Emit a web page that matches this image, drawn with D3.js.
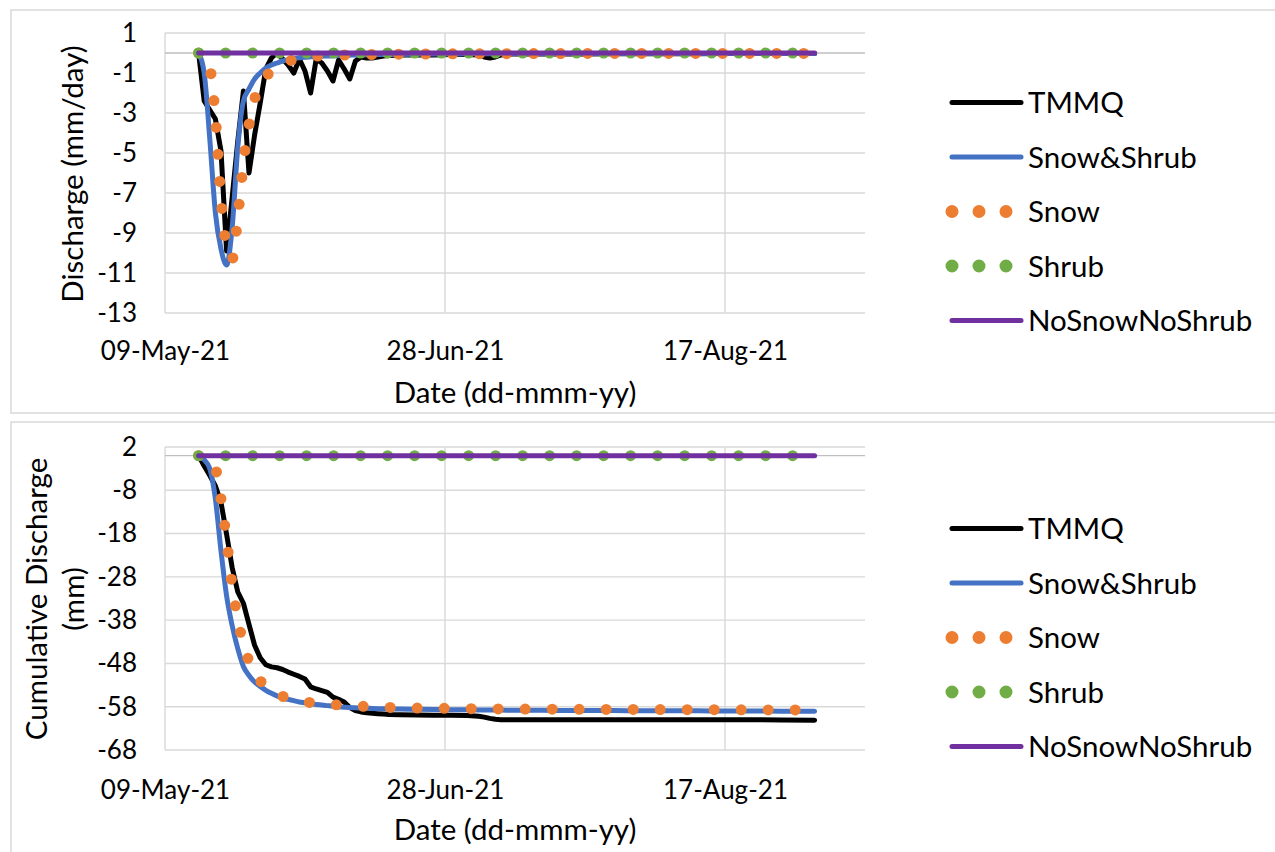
<!DOCTYPE html>
<html><head><meta charset="utf-8">
<script src="https://cdnjs.cloudflare.com/ajax/libs/d3/7.8.5/d3.min.js"></script>
<style>
body{margin:0;background:#fff}
svg text{font-family:Lato,"Open Sans",sans-serif;fill:#000}
</style>
</head><body>
<svg id="c" width="1275" height="852"></svg>
<script>
// ---------- DATA ----------
const startDate = new Date(2021, 4, 9);          // 09-May-21 (axis origin)
const endDate = new Date(2021, 8, 11);           // axis max
// day offsets from 09-May-21 for every data row
const dayOffsets = [6,7,8,9,10,11,12,13,14,15,16,17,18,19,20,21,22,23,24,25,26,27,28,29,30,31,32,33,34,35,36,37,38,39,40,
  42,45,48,51,54,56,57,58,59,60,62,65,70,75,80,85,90,95,100,105,110,116];
const seriesNames = ["TMMQ","Snow&Shrub","Snow","Shrub","NoSnowNoShrub"];
const xTickDates = ["2021-05-09","2021-06-28","2021-08-17"];
const yTicksDaily = [1,-1,-3,-5,-7,-9,-11,-13];
const yTicksCum = [2,-8,-18,-28,-38,-48,-58,-68];

// Daily discharge (mm/day)
const dailyTMMQ = [0,-2.4,-2.85,-3.3,-4.9,-9.9,-7.2,-4.4,-1.9,-6.0,-4.1,-2.5,-0.8,-0.25,0,-0.3,-0.6,-1.0,-0.3,-0.9,-2.0,-0.3,-0.5,-0.9,-1.4,-0.35,-0.8,-1.3,-0.4,-0.2,-0.25,-0.25,-0.2,-0.15,-0.12,
  -0.1,-0.1,-0.1,-0.08,-0.08,-0.1,-0.2,-0.25,-0.2,-0.1,-0.05,-0.05,-0.05,-0.05,-0.04,-0.04,-0.04,-0.04,-0.03,-0.03,-0.03,-0.03];
const dailySnowShrub = [0,-1.0,-4.3,-8.0,-9.8,-10.6,-8.7,-4.7,-2.4,-1.8,-1.3,-1.0,-0.75,-0.6,-0.5,-0.4,-0.33,-0.28,-0.24,-0.21,-0.19,-0.17,-0.16,-0.15,-0.14,-0.13,-0.12,-0.11,-0.1,-0.1,-0.09,-0.09,-0.08,-0.08,-0.08,
  -0.07,-0.06,-0.05,-0.05,-0.04,-0.04,-0.04,-0.04,-0.04,-0.04,-0.03,-0.03,-0.03,-0.02,-0.02,-0.02,-0.02,-0.02,-0.02,-0.02,-0.02,-0.02];
const dailySnow = [0,-0.05,-0.7,-3.2,-7.3,-9.7,-10.3,-8.2,-5.5,-3.6,-2.3,-1.7,-1.2,-0.9,-0.7,-0.55,-0.42,-0.33,-0.26,-0.21,-0.18,-0.16,-0.14,-0.13,-0.12,-0.11,-0.1,-0.1,-0.09,-0.09,-0.08,-0.08,-0.07,-0.07,-0.07,
  -0.06,-0.05,-0.05,-0.04,-0.04,-0.04,-0.04,-0.04,-0.04,-0.04,-0.03,-0.03,-0.03,-0.02,-0.02,-0.02,-0.02,-0.02,-0.02,-0.02,-0.02,-0.02];
const dailyShrub = [0,0,0,0,0,0,0,0,0,0,0,0,0,0,0,0,0,0,0,0,0,0,0,0,0,0,0,0,0,0,0,0,0,0,0,
  0,0,0,0,0,0,0,0,0,0,0,0,0,0,0,0,0,0,0,0,0,0];
const dailyNone = [0,0,0,0,0,0,0,0,0,0,0,0,0,0,0,0,0,0,0,0,0,0,0,0,0,0,0,0,0,0,0,0,0,0,0,
  0,0,0,0,0,0,0,0,0,0,0,0,0,0,0,0,0,0,0,0,0,0];

// Cumulative discharge (mm)
const cumTMMQ = [0,-2.4,-4.6,-7.0,-10.8,-18.2,-25.9,-31.5,-34.1,-39.0,-43.8,-46.7,-48.3,-48.8,-49.0,-49.4,-50.0,-50.5,-51.0,-51.6,-53.4,-53.9,-54.3,-54.7,-55.8,-56.3,-56.9,-58.2,-58.9,-59.2,-59.4,-59.5,-59.6,-59.7,-59.8,
  -59.85,-59.9,-59.95,-60.0,-60.05,-60.2,-60.4,-60.7,-60.9,-61.0,-61.0,-61.0,-61.0,-61.0,-61.0,-61.0,-61.0,-61.0,-61.0,-61.0,-61.05,-61.1];
const cumSnowShrub = [0,-1.0,-3.0,-10.0,-22.0,-32.4,-39.3,-44.6,-48.7,-50.8,-52.3,-53.3,-54.2,-54.9,-55.5,-56.0,-56.3,-56.6,-56.9,-57.1,-57.3,-57.5,-57.6,-57.75,-57.9,-58.0,-58.1,-58.2,-58.25,-58.3,-58.35,-58.4,-58.45,-58.48,-58.5,
  -58.55,-58.6,-58.65,-58.7,-58.72,-58.74,-58.75,-58.76,-58.77,-58.78,-58.8,-58.82,-58.85,-58.87,-58.9,-58.92,-58.94,-58.96,-58.98,-59.0,-59.02,-59.05];
const cumSnow = [0,-0.1,-0.8,-2.8,-10.0,-19.5,-30.0,-37.7,-43.6,-47.5,-50.2,-52.0,-53.3,-54.3,-55.1,-55.6,-56.0,-56.4,-56.7,-56.9,-57.05,-57.2,-57.3,-57.4,-57.5,-57.6,-57.7,-57.8,-57.85,-57.9,-57.95,-58.0,-58.05,-58.1,-58.15,
  -58.2,-58.3,-58.35,-58.4,-58.45,-58.47,-58.48,-58.49,-58.5,-58.5,-58.52,-58.55,-58.58,-58.6,-58.62,-58.64,-58.66,-58.68,-58.7,-58.72,-58.74,-58.76];
const cumShrub = [0,0,0,0,0,0,0,0,0,0,0,0,0,0,0,0,0,0,0,0,0,0,0,0,0,0,0,0,0,0,0,0,0,0,0,
  0,0,0,0,0,0,0,0,0,0,0,0,0,0,0,0,0,0,0,0,0,0];
const cumNone = [0,0,0,0,0,0,0,0,0,0,0,0,0,0,0,0,0,0,0,0,0,0,0,0,0,0,0,0,0,0,0,0,0,0,0,
  0,0,0,0,0,0,0,0,0,0,0,0,0,0,0,0,0,0,0,0,0,0];

// ---------- STYLE ----------
const styles = {
  "TMMQ":          {color:"#000000", width:5, dots:false, curve:d3.curveLinear},
  "Snow&Shrub":    {color:"#4472C4", width:5, dots:false, curve:d3.curveMonotoneX},
  "Snow":          {color:"#ED7D31", width:11, dots:true, curve:d3.curveMonotoneX},
  "Shrub":         {color:"#70AD47", width:11, dots:true, curve:d3.curveLinear},
  "NoSnowNoShrub": {color:"#7030A0", width:5, dots:false, curve:d3.curveLinear}
};
const TICK_FONT = 26;
const LABEL_FONT = 29.5;
const svg = d3.select("#c");
const dates = dayOffsets.map(o => d3.timeDay.offset(startDate, o));
const parse = d3.timeParse("%Y-%m-%d");
const fmt = d3.timeFormat("%d-%b-%y");

function drawChart(cfg) {
  const g = svg.append("g");
  // outer frame
  g.append("rect").attr("x", 11).attr("y", cfg.frameTop).attr("width", 1300).attr("height", cfg.frameH)
    .attr("fill", "none").attr("stroke", "#d9d9d9").attr("stroke-width", 1.5);

  const x = d3.scaleTime().domain([startDate, endDate]).range([165, 865]);
  const y = d3.scaleLinear().domain(cfg.yDomain).range(cfg.yRange);

  // horizontal gridlines
  g.append("g").selectAll("line").data(cfg.yTicks).join("line")
    .attr("x1", 165).attr("x2", 865).attr("y1", d => y(d)).attr("y2", d => y(d))
    .attr("stroke", "#d9d9d9").attr("stroke-width", 1.4);
  // vertical gridlines
  g.append("g").selectAll("line").data(xTickDates).join("line")
    .attr("x1", d => x(parse(d))).attr("x2", d => x(parse(d)))
    .attr("y1", cfg.yRange[1]).attr("y2", cfg.yRange[0])
    .attr("stroke", "#d9d9d9").attr("stroke-width", 1.4);
  // zero axis line
  g.append("line").attr("x1", 165).attr("x2", 865).attr("y1", y(0)).attr("y2", y(0))
    .attr("stroke", "#bfbfbf").attr("stroke-width", 1.4);

  // y axis labels (plain hyphen-minus like the original)
  const ya = g.append("g").attr("transform", "translate(165,0)")
    .call(d3.axisLeft(y).tickValues(cfg.yTicks).tickFormat(d => String(d)).tickSize(0).tickPadding(28));
  ya.select(".domain").remove();
  ya.selectAll("text").style("font-size", TICK_FONT + "px").style("font-family", "Lato");

  // x axis labels
  const xa = g.append("g").attr("transform", `translate(0,${cfg.yRange[0]})`)
    .call(d3.axisBottom(x).tickValues(xTickDates.map(parse)).tickFormat(fmt).tickSize(0).tickPadding(cfg.xPad));
  xa.select(".domain").remove();
  xa.selectAll("text").style("font-size", TICK_FONT + "px").style("font-family", "Lato");

  // axis titles
  g.append("text").attr("x", 515).attr("y", cfg.xTitleY).attr("text-anchor", "middle")
    .style("font-size", LABEL_FONT + "px").text("Date (dd-mmm-yy)");
  cfg.yTitle.forEach(t => {
    g.append("text").attr("transform", `translate(${t.x},${cfg.yTitleCY}) rotate(-90)`)
      .attr("text-anchor", "middle").style("font-size", LABEL_FONT + "px").text(t.text);
  });

  // series
  cfg.series.forEach((vals, si) => {
    const st = styles[seriesNames[si]];
    const line = d3.line().x((d, i) => x(dates[i])).y(d => y(d)).curve(st.curve);
    const p = g.append("path").attr("d", line(vals)).attr("fill", "none")
      .attr("stroke", st.color).attr("stroke-width", st.width)
      .attr("stroke-linejoin", "round").attr("stroke-linecap", "round");
    if (st.dots) p.attr("stroke-dasharray", "0 27");
  });

  // legend
  seriesNames.forEach((name, i) => {
    const st = styles[name];
    const ly = cfg.legendY + i * 54.5;
    const l = g.append("line").attr("x1", 952).attr("x2", 1021).attr("y1", ly).attr("y2", ly)
      .attr("stroke", st.color).attr("stroke-linecap", "round");
    if (st.dots) l.attr("stroke-width", 13).attr("stroke-dasharray", "0 27").attr("x2", 1010);
    else l.attr("stroke-width", 5);
    g.append("text").attr("x", 1028).attr("y", ly + 10.5).style("font-size", LABEL_FONT + "px").text(name);
  });
}

drawChart({
  frameTop: 10, frameH: 403,
  yDomain: [-13, 1], yRange: [313, 33], yTicks: yTicksDaily,
  xPad: 29, xTitleY: 403,
  yTitle: [{x: 83, text: "Discharge (mm/day)"}], yTitleCY: 174,
  series: [dailyTMMQ, dailySnowShrub, dailySnow, dailyShrub, dailyNone],
  legendY: 102.5
});
drawChart({
  frameTop: 422, frameH: 500,
  yDomain: [-68, 2], yRange: [750, 447], yTicks: yTicksCum,
  xPad: 31, xTitleY: 840,
  yTitle: [{x: 47, text: "Cumulative Discharge"}, {x: 84, text: "(mm)"}], yTitleCY: 599,
  series: [cumTMMQ, cumSnowShrub, cumSnow, cumShrub, cumNone],
  legendY: 528.5
});
</script>
</body></html>
